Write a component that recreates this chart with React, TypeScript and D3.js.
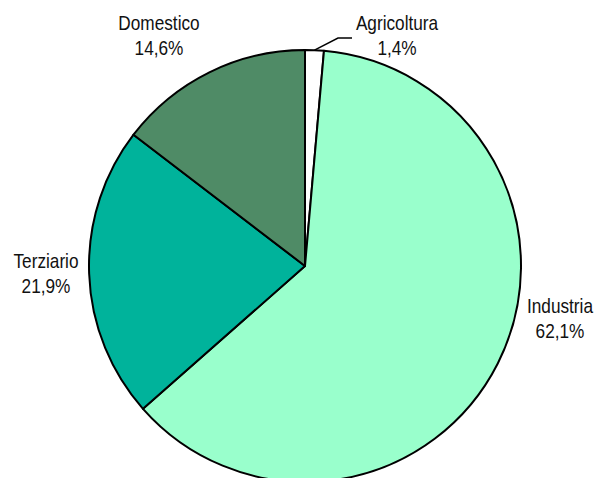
import React from "react";
import * as d3 from "d3";

// chart data
const categories = ["Agricoltura", "Industria", "Terziario", "Domestico"];
const shares = [1.4, 62.1, 21.9, 14.6];
const valueLabels = ["1,4%", "62,1%", "21,9%", "14,6%"];
const colors = ["#ffffff", "#99ffcc", "#00b39b", "#4f8b66"];

// first-line baseline of each label, relative to pie centre (Excel "best fit" placement)
const labelOffsets = [
	[92, -236],
	[255, 47],
	[-259, 2],
	[-146, -236],
];

const width = 597,
	height = 478,
	cx = 305,
	cy = 266,
	radius = 216;

const App = () => {
	const pie = d3
		.pie<number>()
		.sort(null)
		.value((d) => d);
	const arcs = pie(shares);
	const arc = d3.arc<d3.PieArcDatum<number>>().innerRadius(0).outerRadius(radius);

	// leader line for the tiny slice
	const agri = arcs[0];
	const mid = (agri.startAngle + agri.endAngle) / 2;
	const p0 = [Math.sin(mid) * radius, -Math.cos(mid) * radius];
	const leader = d3.line()([
		p0 as [number, number],
		[33, -228],
		[47, -228],
	]);

	return (
		<svg
			width={width}
			height={height}
			style={{ position: "absolute", left: 0, top: 0, background: "#fff" }}
		>
			<g transform={"translate(" + cx + "," + cy + ")"}>
				{arcs.map((d, i) => (
					<path
						key={categories[i]}
						d={arc(d) || ""}
						fill={colors[i]}
						stroke="#000"
						strokeWidth={2}
						strokeLinejoin="round"
					/>
				))}
				<path d={leader || ""} fill="none" stroke="#000" strokeWidth={1.5} />
				{categories.map((c, i) => (
					<g
						key={c}
						transform={
							"translate(" + labelOffsets[i][0] + "," + labelOffsets[i][1] + ") scale(0.82,1)"
						}
					>
						<text
							textAnchor="middle"
							fontFamily="'Liberation Sans', Arial, sans-serif"
							fontSize={21}
							fill="#111"
						>
							<tspan x={0} y={0}>
								{c}
							</tspan>
							<tspan x={0} y={25}>
								{valueLabels[i]}
							</tspan>
						</text>
					</g>
				))}
			</g>
		</svg>
	);
};

export default App;
